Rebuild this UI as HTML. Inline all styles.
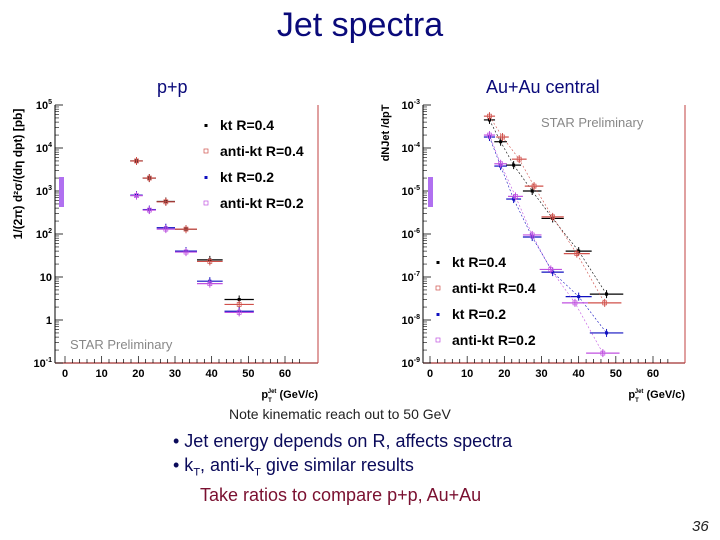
<!DOCTYPE html>
<html><head><meta charset="utf-8">
<style>
html,body{margin:0;padding:0;background:#fff;}
body{width:720px;height:540px;position:relative;overflow:hidden;font-family:"Liberation Sans",sans-serif;}
.t{position:absolute;white-space:nowrap;}
</style></head>
<body>
<div class="t" style="left:0;width:720px;text-align:center;top:6px;font-size:34px;color:#0a0a7a;">Jet spectra</div>
<div class="t" style="left:157px;top:77px;font-size:18px;color:#0a0a7a;">p+p</div>
<div class="t" style="left:486px;top:77px;font-size:18px;color:#0a0a7a;">Au+Au central</div>
<svg id="chart" width="720" height="540" style="position:absolute;left:0;top:0;"></svg>
<div class="t" style="left:229px;top:406px;font-size:14px;color:#222;">Note kinematic reach out to 50 GeV</div>
<div class="t" style="left:173px;top:431px;font-size:18px;color:#0a0a5a;">• Jet energy depends on R, affects spectra</div>
<div class="t" style="left:173px;top:455px;font-size:18px;color:#0a0a5a;">• k<sub style="font-size:11px">T</sub>, anti-k<sub style="font-size:11px">T</sub> give similar results</div>
<div class="t" style="left:200px;top:485px;font-size:18px;color:#7a1030;">Take ratios to compare p+p, Au+Au</div>
<div class="t" style="left:692px;top:518px;font-size:15px;font-style:italic;color:#222;">36</div>
<script>
const seriesNames=["kt R=0.4","anti-kt R=0.4","kt R=0.2","anti-kt R=0.2"];
const seriesColors=["#000","#d0504a","#1010c0","#c050e0"];
const ppX=[[19.5,23,27.5,33,39.5,47.5],[19.5,23,27.5,33,39.5,47.5],[19.5,23,27.5,33,39.5,47.5],[19.5,23,27.5,33,39.5,47.5]];
const ppY=[[5000,2000,570,130,25,3],[5000,2000,560,130,23,2.3],[800,370,140,40,8,1.6],[780,360,130,38,7,1.5]];
const ppXerr=[1.7,1.8,2.5,3,3.5,4];
const auX=[[16,19,22.5,27.5,33,40,47.5],[16,19.5,24,28,33,39.5,47],[16,19,22.5,27.5,33,40,47.5],[16,19,23,27.5,32.5,39,46.5]];
const auY=[[4.5e-4,1.4e-4,4e-5,1e-5,2.3e-6,4e-7,4e-8],[5.5e-4,1.8e-4,5.5e-5,1.3e-5,2.5e-6,3.5e-7,2.5e-8],[1.8e-4,3.8e-5,6.5e-6,8.5e-7,1.3e-7,3.5e-8,5e-9],[2e-4,4.3e-5,7.5e-6,9.5e-7,1.5e-7,2.5e-8,1.7e-9]];
const auXerr=[1.5,1.7,2,2.5,3,3.5,4.5];
const xTicks=[0,10,20,30,40,50,60];
const ppDecades=[5,4,3,2,1,0,-1];
const auDecades=[-3,-4,-5,-6,-7,-8,-9];

const svg=document.getElementById('chart');
const NS='http://www.w3.org/2000/svg';
function mk(tag,attrs,parent){const e=document.createElementNS(NS,tag);for(const k in attrs)e.setAttribute(k,attrs[k]);(parent||svg).appendChild(e);return e;}

function panel(cfg){
  const g=mk('g',{});
  
  
  const sx=v=>cfg.x0+v*(cfg.x60-cfg.x0)/60;
  const sy=v=>cfg.top+(cfg.dTop-Math.log10(v))*(cfg.bot-cfg.top)/(cfg.dTop-cfg.dBot);
  // frame
  const ax=mk('line',{x1:cfg.L,y1:cfg.top,x2:cfg.L,y2:cfg.bot,stroke:'#000','stroke-width':1},g);
  
  const bx=mk('line',{x1:cfg.L,y1:cfg.bot,x2:cfg.R,y2:cfg.bot,stroke:'#a03030','stroke-width':1.2},g);
  
  mk('line',{x1:cfg.R,y1:cfg.top,x2:cfg.R,y2:cfg.bot,stroke:'#c04040','stroke-width':1},g);
  // x ticks
  for(let v=0;v<=65;v+=2){const X=sx(v);if(X>cfg.R)break;const big=v%10===0;
    mk('line',{x1:X,y1:cfg.bot,x2:X,y2:cfg.bot-(big?7:4),stroke:'#000','stroke-width':0.7},g);}
  xTicks.forEach(v=>{const t=mk('text',{x:sx(v),y:cfg.bot+14,'font-size':11,'font-weight':'bold','text-anchor':'middle','font-family':'Liberation Sans'},g);t.textContent=v;
    });
  // y ticks
  cfg.decades.forEach((d,i)=>{const Y=sy(Math.pow(10,d));
    mk('line',{x1:cfg.L,y1:Y,x2:cfg.L+8,y2:Y,stroke:'#000','stroke-width':0.8},g);
    if(i<cfg.decades.length-1){for(let m=2;m<10;m++){const yy=sy(m*Math.pow(10,d-1));mk('line',{x1:cfg.L,y1:yy,x2:cfg.L+4,y2:yy,stroke:'#000','stroke-width':0.6},g);}}
    const t=mk('text',{x:cfg.L-3,y:Y+4,'font-size':11,'font-weight':'bold','text-anchor':'end','font-family':'Liberation Sans'},g);
    
    if(cfg.plain&&d===1){t.textContent='10';}else if(cfg.plain&&d===0){t.textContent='1';}
    else{t.textContent='10';const s=mk('tspan',{dy:-5,'font-size':7},t);s.textContent=d;}
  });
  // syst box
  const sb=mk('rect',{x:cfg.sysX,y:177,width:5,height:30,fill:'#b070f0'},g);
  
  // series
  cfg.X.forEach((xs,s)=>{
    const sg=mk('g',{},g);
    if(cfg.lines){const pts=xs.map((x,i)=>sx(x)+','+sy(cfg.Y[s][i])).join(' ');
      mk('polyline',{points:pts,fill:'none',stroke:seriesColors[s],'stroke-width':0.6,'stroke-dasharray':'2,2'},sg);}
    xs.forEach((x,i)=>{const X=sx(x),Y=sy(cfg.Y[s][i]),e=cfg.xerr[i];
      mk('line',{x1:sx(x-e),y1:Y,x2:sx(x+e),y2:Y,stroke:seriesColors[s],'stroke-width':1.2},sg);
      mk('line',{x1:X,y1:Y-4,x2:X,y2:Y+4,stroke:seriesColors[s],'stroke-width':1},sg);
      const p=(s%2===0)?mk('rect',{x:X-1.5,y:Y-1.5,width:3,height:3,fill:seriesColors[s]},sg):mk('rect',{x:X-2,y:Y-2,width:4,height:4,fill:'none',stroke:seriesColors[s],'stroke-width':0.7},sg);
      
    });
  });
  // legend
  seriesNames.forEach((n,i)=>{const Y=cfg.legY+i*26;
    const le=mk('g',{},g);
    if(i%2===0)mk('rect',{x:cfg.legX-1.5,y:Y-6,width:3,height:3,fill:seriesColors[i]},le);
    else mk('rect',{x:cfg.legX-2,y:Y-7,width:4,height:4,fill:'none',stroke:seriesColors[i],'stroke-width':0.7},le);
    const t=mk('text',{x:cfg.legX+14,y:Y,'font-size':14,'font-weight':'bold','font-family':'Liberation Sans'},le);t.textContent=n;});
  // star prelim
  const sp=mk('text',{x:cfg.starX,y:cfg.starY,'font-size':13,fill:'#888','font-family':'Liberation Sans'},g);sp.textContent='STAR Preliminary';
  
  // x title
  const xt=mk('text',{x:cfg.R,y:cfg.bot+35,'font-size':11,'font-weight':'bold','text-anchor':'end','font-family':'Liberation Sans'},g);
  
  xt.innerHTML='p<tspan dy="4" font-size="6">T</tspan><tspan dy="-9" dx="-4" font-size="6">Jet</tspan><tspan dy="5"> (GeV/c)</tspan>';
  return {sx,sy};
}

panel({name:'pp-chart',L:55,R:318,top:105,bot:363,x0:65,x60:285,dTop:5,dBot:-1,decades:ppDecades,plain:true,X:ppX,Y:ppY,xerr:ppXerr,lines:false,sysX:59,legX:206,legY:130,starX:70,starY:349});
panel({name:'auau-chart',L:423,R:685,top:105,bot:363,x0:430,x60:653,dTop:-3,dBot:-9,decades:auDecades,plain:false,X:auX,Y:auY,xerr:auXerr,lines:true,sysX:428,legX:438,legY:267,starX:541,starY:127});

// y titles
const yt1=mk('text',{x:0,y:0,'font-size':12,'font-weight':'bold','text-anchor':'middle','font-family':'Liberation Sans',transform:'translate(22,174) rotate(-90)'});

yt1.textContent='1/(2π) d²σ/(dη dpt) [pb]';
const yt2=mk('text',{x:0,y:0,'font-size':11,'font-weight':'bold','text-anchor':'middle','font-family':'Liberation Sans',transform:'translate(389,133) rotate(-90)'});

yt2.textContent='dNJet /dpT';
</script>
</body></html>
